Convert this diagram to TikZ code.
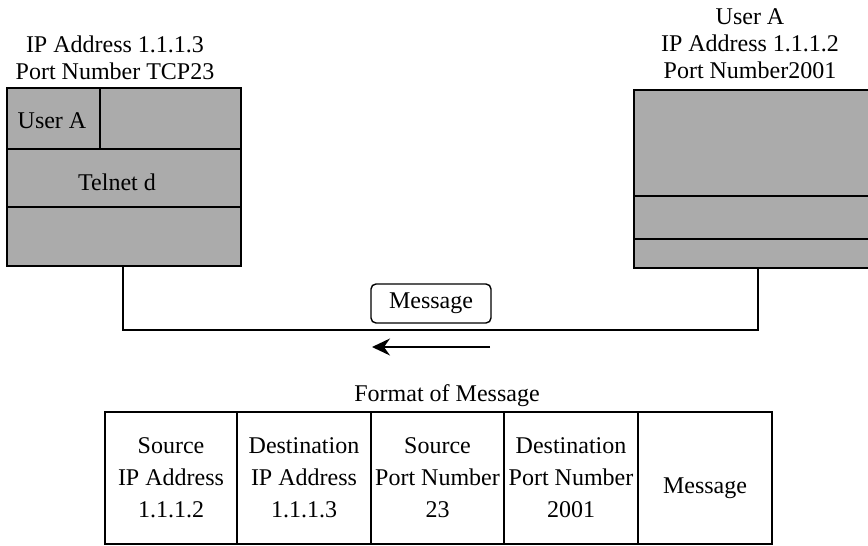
\documentclass[tikz,border=0pt]{standalone}
\usepackage{fontspec}
\setmainfont{Liberation Serif}
\usetikzlibrary{arrows.meta,calc}
\definecolor{boxgray}{HTML}{ABABAB}
\begin{document}
\begin{tikzpicture}[x=1pt,y=-1pt,
  every node/.style={font=\fontsize{24}{27}\selectfont, inner sep=0pt},
  hostbox/.style={fill=boxgray, minimum height=178pt},
  edge/.style={line width=1.6pt},
  cell/.style={draw, line width=1.6pt, minimum height=132pt, align=center,
     font=\fontsize{24}{32}\selectfont},
  lbl/.style={align=center}]
\useasboundingbox (0,0) rectangle (868,546);
% left host
\node[hostbox, draw, line width=1.6pt, minimum width=234pt] (lbox) at (124,177) {};
\coordinate (lv1) at (100,88);
\coordinate (lv2) at (100,149);
\coordinate (lh1) at (7,149);
\coordinate (lh2) at (241,149);
\coordinate (lh3) at (7,207);
\coordinate (lh4) at (241,207);
\draw[edge] (lv1) -- (lv2);
\draw[edge] (lh1) -- (lh2);
\draw[edge] (lh3) -- (lh4);
\node (usera) at (52,121) {User A};
\node (telnet) at (117,182) {Telnet d};
\node[lbl] (llabel) at (115,58) {IP Address 1.1.1.3\\Port Number TCP23};
% right host
\node[hostbox, minimum width=240pt] (rbox) at (754,179) {};
\coordinate (r1) at (870,90);
\coordinate (r2) at (634,90);
\coordinate (r3) at (634,268);
\coordinate (r4) at (870,268);
\draw[edge] (r1) -- (r2) -- (r3) -- (r4);
\coordinate (rh1) at (634,196);
\coordinate (rh2) at (870,196);
\coordinate (rh3) at (634,239);
\coordinate (rh4) at (870,239);
\draw[edge] (rh1) -- (rh2);
\draw[edge] (rh3) -- (rh4);
\node[lbl] (rlabel) at (750,44) {User A\\IP Address 1.1.1.2\\Port Number2001};
% connection
\coordinate (lb) at (123,266);
\coordinate (rb) at (758,268);
\coordinate (corner) at (123,330);
\draw[line width=1.4pt] (lb) -- (corner) -| (rb);
\node[draw, line width=1.4pt, rounded corners=5pt, minimum width=120pt, minimum height=39pt, fill=white] (msg) at (431,303.5) {Message};
\coordinate (a1) at (490,347);
\coordinate (a2) at (372,347);
\draw[line width=1.6pt, -{Stealth[length=18pt,width=17pt,inset=6pt]}] (a1) -- (a2);
% table
\node (fmt) at (447,396) {Format of Message};
\node[cell, minimum width=132pt] (c1) at (171,478) {Source\\IP Address\\1.1.1.2};
\node[cell, minimum width=134pt] (c2) at (304,478) {Destination\\IP Address\\1.1.1.3};
\node[cell, minimum width=133pt] (c3) at (437.5,478) {Source\\Port Number\\23};
\node[cell, minimum width=134pt] (c4) at (571,478) {Destination\\Port Number\\2001};
\node[cell, minimum width=134pt] (c5) at (705,478) {};
\node (c5text) at ($(c5.center)+(0,10)$) {Message};
\end{tikzpicture}
\end{document}
